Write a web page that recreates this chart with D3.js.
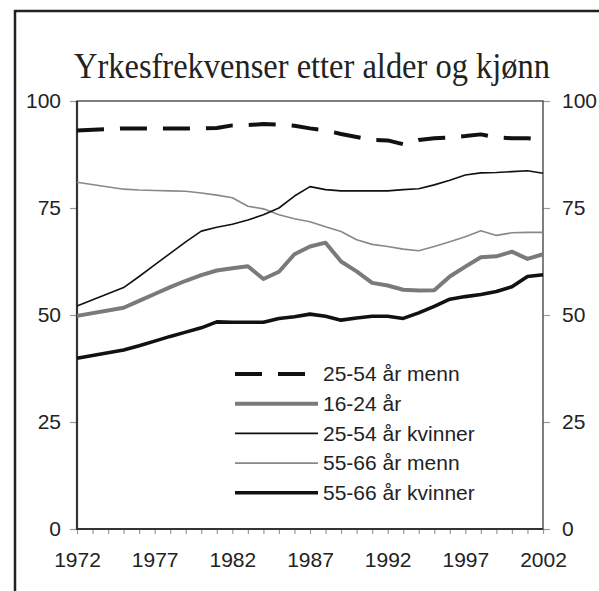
<!DOCTYPE html>
<html>
<head>
<meta charset="utf-8">
<script src="https://cdnjs.cloudflare.com/ajax/libs/d3/7.8.5/d3.min.js"></script>
<style>
  html, body { margin: 0; padding: 0; background: #fff; }
  text { font-family: "Liberation Sans", Arial, Helvetica, sans-serif; fill: #222; }
</style>
</head>
<body>
<div id="chart"></div>
<script>
// Data
var years = [1972, 1975, 1976, 1977, 1978, 1979, 1980, 1981, 1982, 1983, 1984, 1985, 1986, 1987,
  1988, 1989, 1990, 1991, 1992, 1993, 1994, 1995, 1996, 1997, 1998, 1999, 2000, 2001, 2002];

var menn25_54 = [93.1, 93.6, 93.6, 93.6, 93.6, 93.6, 93.6, 93.7, 94.3, 94.4, 94.6, 94.5, 94.2, 93.6,
  93.1, 92.3, 91.6, 90.9, 90.8, 89.9, 90.9, 91.3, 91.5, 91.8, 92.2, 91.5, 91.3, 91.3, 90.9];
var alle16_24 = [49.8, 51.7, 53.3, 54.9, 56.5, 58.0, 59.3, 60.4, 60.9, 61.4, 58.4, 60.1, 64.2, 66.0,
  66.9, 62.5, 60.2, 57.5, 56.9, 55.9, 55.7, 55.8, 59.0, 61.3, 63.5, 63.7, 64.8, 63.1, 64.2];
var kvinner25_54 = [52.1, 56.4, 59.0, 61.7, 64.4, 67.1, 69.6, 70.5, 71.2, 72.2, 73.4, 75.0, 77.8, 80.0,
  79.3, 79.0, 79.0, 79.0, 79.0, 79.3, 79.5, 80.4, 81.5, 82.7, 83.2, 83.3, 83.5, 83.7, 83.1];
var menn55_66 = [81.0, 79.4, 79.2, 79.1, 79.0, 78.9, 78.5, 78.0, 77.4, 75.4, 74.8, 73.4, 72.5, 71.8,
  70.6, 69.5, 67.6, 66.5, 66.0, 65.4, 65.0, 66.0, 67.1, 68.3, 69.7, 68.6, 69.2, 69.3, 69.3];
var kvinner55_66 = [39.9, 41.8, 42.8, 43.9, 45.0, 46.0, 47.0, 48.4, 48.3, 48.3, 48.3, 49.2, 49.6, 50.2,
  49.7, 48.8, 49.3, 49.7, 49.7, 49.2, 50.5, 52.0, 53.7, 54.3, 54.8, 55.5, 56.6, 59.0, 59.4];

var seriesNames = ["25-54 år menn", "16-24 år", "25-54 år kvinner", "55-66 år menn", "55-66 år kvinner"];
var seriesValues = [menn25_54, alle16_24, kvinner25_54, menn55_66, kvinner55_66];

var xTickLabels = [1972, 1977, 1982, 1987, 1992, 1997, 2002];
var yTickLabels = [0, 25, 50, 75, 100];
var chartTitle = "Yrkesfrekvenser etter alder og kjønn";

// Line styles, in legend order
var line__Styles = [
  { color: "#111", width: 4, dash: "27,16" },
  { color: "#7a7a7a", width: 4, dash: null },
  { color: "#111", width: 1.6, dash: null },
  { color: "#888", width: 1.6, dash: null },
  { color: "#111", width: 3.6, dash: null }
];

// SVG area dimensions
var svg__Width = 599;
var svg__Height = 591;

var chart__Margin = { top: 101, right: 56, bottom: 62, left: 77 };
var chart__Width = svg__Width - chart__Margin.left - chart__Margin.right;
var chart__Height = svg__Height - chart__Margin.top - chart__Margin.bottom;

var svg = d3.select("#chart")
  .append("svg")
  .attr("width", svg__Width)
  .attr("height", svg__Height)
  .style("display", "block");

svg.append("rect")
  .attr("width", svg__Width)
  .attr("height", svg__Height)
  .attr("fill", "#fff");

// outer frame (cropped at right and bottom)
svg.append("path")
  .attr("d", "M15,600 V11 H610")
  .attr("fill", "none")
  .attr("stroke", "#222")
  .attr("stroke-width", 2.5);

// title
svg.append("text")
  .attr("x", 312)
  .attr("y", 78)
  .attr("text-anchor", "middle")
  .style("font-family", "'Liberation Serif', 'Times New Roman', serif")
  .style("font-size", "35px")
  .attr("textLength", 476)
  .attr("lengthAdjust", "spacingAndGlyphs")
  .text(chartTitle);

var chart__Group = svg.append("g")
  .attr("transform", `translate(${chart__Margin.left}, ${chart__Margin.top})`);

// scales
var x__Scale = d3.scaleLinear()
  .domain([d3.min(years), d3.max(years)])
  .range([0, chart__Width]);

var y__Scale = d3.scaleLinear()
  .domain([0, 100])
  .range([chart__Height, 0]);

// axes
var allYears = d3.range(d3.min(years), d3.max(years) + 1);

var bottom__Axis = d3.axisBottom(x__Scale)
  .tickValues(allYears)
  .tickSize(5)
  .tickPadding(18)
  .tickFormat(d => xTickLabels.indexOf(d) >= 0 ? d : "");

var left__Axis = d3.axisLeft(y__Scale)
  .tickValues(yTickLabels)
  .tickSize(7)
  .tickPadding(9);

var right__Axis = d3.axisRight(y__Scale)
  .tickValues(yTickLabels)
  .tickSize(7)
  .tickPadding(12);

function styleAxis(g) {
  g.select(".domain").remove();
  g.selectAll(".tick line").attr("stroke", "#999").attr("stroke-width", 1.2);
  g.selectAll(".tick text")
    .style("font-family", "'Liberation Sans', Arial, Helvetica, sans-serif")
    .style("font-size", "21px")
    .attr("fill", "#222");
}

chart__Group.append("g")
  .call(left__Axis)
  .call(styleAxis);

chart__Group.append("g")
  .attr("transform", `translate(${chart__Width}, 0)`)
  .call(right__Axis)
  .call(styleAxis);

chart__Group.append("g")
  .attr("transform", `translate(0, ${chart__Height})`)
  .call(bottom__Axis)
  .call(styleAxis);

// plot frame
chart__Group.append("rect")
  .attr("width", chart__Width)
  .attr("height", chart__Height)
  .attr("fill", "none")
  .attr("stroke", "#555")
  .attr("stroke-width", 1.5);

chart__Group.append("path")
  .attr("d", `M0,0 V${chart__Height} H${chart__Width}`)
  .attr("fill", "none")
  .attr("stroke", "#333")
  .attr("stroke-width", 2.2);

// lines
var line__Gen = d3.line()
  .x((d, i) => x__Scale(years[i]))
  .y(d => y__Scale(d));

// draw thin lines first, thick on top
var drawOrder = [3, 2, 1, 4, 0];
drawOrder.forEach(function(k) {
  var st = line__Styles[k];
  chart__Group.append("path")
    .datum(seriesValues[k])
    .attr("d", line__Gen)
    .attr("fill", "none")
    .attr("stroke", st.color)
    .attr("stroke-width", st.width)
    .attr("stroke-linejoin", "round")
    .attr("stroke-dasharray", st.dash);
});

// legend
var legend__X = 235;
var legend__Y = 374;
var legend__Step = 29.7;

var legend = svg.append("g");
seriesNames.forEach(function(name, i) {
  var st = line__Styles[i];
  var yy = legend__Y + i * legend__Step;
  legend.append("line")
    .attr("x1", legend__X)
    .attr("x2", legend__X + 83)
    .attr("y1", yy)
    .attr("y2", yy)
    .attr("stroke", st.color)
    .attr("stroke-width", st.width)
    .attr("stroke-dasharray", st.dash);
  legend.append("text")
    .attr("x", legend__X + 88)
    .attr("y", yy)
    .attr("dy", "0.35em")
    .style("font-size", "21px")
    .text(name);
});
</script>
</body>
</html>
